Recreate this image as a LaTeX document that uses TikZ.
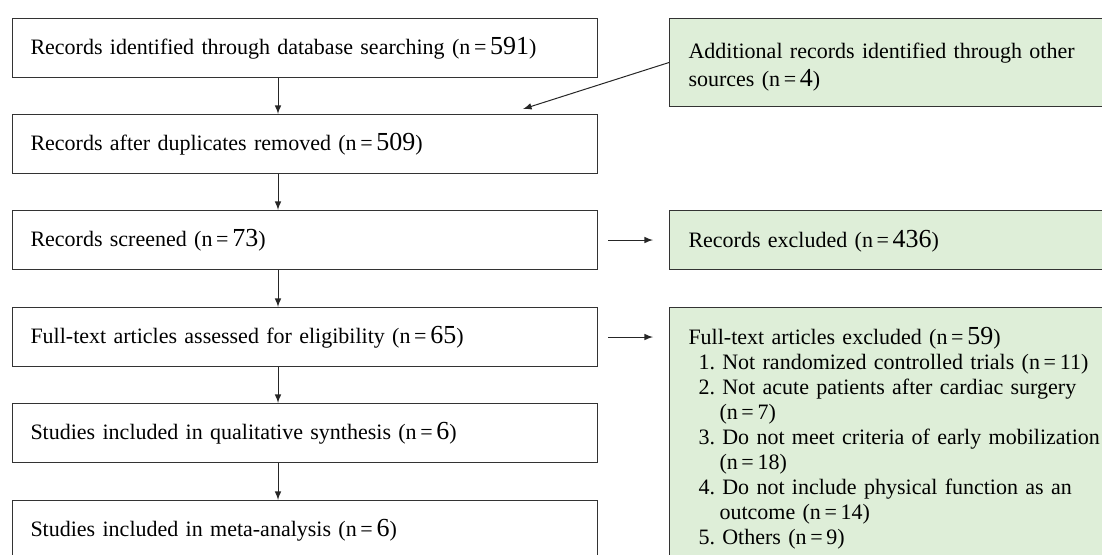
\documentclass[tikz,border=0pt]{standalone}
\usepackage{fontspec}
\setmainfont{Liberation Serif}
\frenchspacing
\usetikzlibrary{arrows}
\definecolor{exclgreen}{RGB}{222,238,216}
\tikzset{
  recbox/.style={draw=black!80,line width=0.5pt,anchor=north west,minimum width=292.5pt,minimum height=29.5pt,
    inner xsep=9pt,inner ysep=0pt,text width=274.5pt,align=left,font=\fontsize{11}{12.5}\selectfont},
  exclbox/.style={draw=black!80,fill=exclgreen,line width=0.5pt,anchor=north west,minimum width=250pt,
    inner xsep=9.5pt,text width=231pt,align=left,font=\fontsize{11}{12.5}\selectfont},
  flow/.style={-latex,line width=0.5pt,black!85}
}
\newcommand{\bign}[1]{{\fontsize{13}{12.5}\selectfont #1}}
\newcommand{\ncount}[1]{(n\,=\,#1)}

\begin{document}
\begin{tikzpicture}[x=0.5pt,y=-0.5pt]
      \useasboundingbox (0,0) rectangle (1102,554);
      \clip (0,0) rectangle (1102,554);
      \node[recbox] (b1) at (12,18) {Records identified through database searching \ncount{\bign{591}}};
      \node[recbox] (b2) at (12,114) {Records after duplicates removed \ncount{\bign{509}}};
      \node[recbox] (b3) at (12,210) {Records screened \ncount{\bign{73}}};
      \node[recbox] (b4) at (12,307) {Full-text articles assessed for eligibility \ncount{\bign{65}}};
      \node[recbox] (b5) at (12,403) {Studies included in qualitative synthesis \ncount{\bign{6}}};
      \node[recbox] (b6) at (12,500) {Studies included in meta-analysis \ncount{\bign{6}}};
      \node[exclbox,minimum height=44pt,inner ysep=0pt,font=\fontsize{11}{14}\selectfont] (add) at (669,18)
        {\rule{0pt}{12.5pt}Additional records identified through other\\ sources \ncount{\bign{4}}};
      \node[exclbox,minimum height=29.5pt,inner ysep=0pt] (ex1) at (669,210) {\rule{0pt}{9.5pt}Records excluded \ncount{\bign{436}}};
      \node[exclbox,inner ysep=10pt] (ex2) at (669,307) {Full-text articles excluded \ncount{\bign{59}}\\
        \hspace*{5pt}1. Not randomized controlled trials \ncount{11}\\
        \hspace*{5pt}2. Not acute patients after cardiac surgery\\
        \hspace*{15.5pt}\ncount{7}\\
        \hspace*{5pt}3. Do not meet criteria of early mobilization\\
        \hspace*{15.5pt}\ncount{18}\\
        \hspace*{5pt}4. Do not include physical function as an\\
        \hspace*{15.5pt}outcome \ncount{14}\\
        \hspace*{5pt}5. Others \ncount{9}};
      \coordinate (axis) at (278,0);
      \coordinate (merge) at (523,109);
      \draw[flow] (b1.south -| axis) -- (b2.north -| axis);
      \draw[flow] (b2.south -| axis) -- (b3.north -| axis);
      \draw[flow] (b3.south -| axis) -- (b4.north -| axis);
      \draw[flow] (b4.south -| axis) -- (b5.north -| axis);
      \draw[flow] (b5.south -| axis) -- (b6.north -| axis);
      \draw[flow] (add.west) -- (merge);
      \draw[flow] ([xshift=5pt]b3.east) -- ([xshift=-8pt]ex1.west);
      \draw[flow] ([xshift=5pt]b4.east) -- ([xshift=-8pt]b4.east -| ex2.west);
    \end{tikzpicture}
\end{document}
